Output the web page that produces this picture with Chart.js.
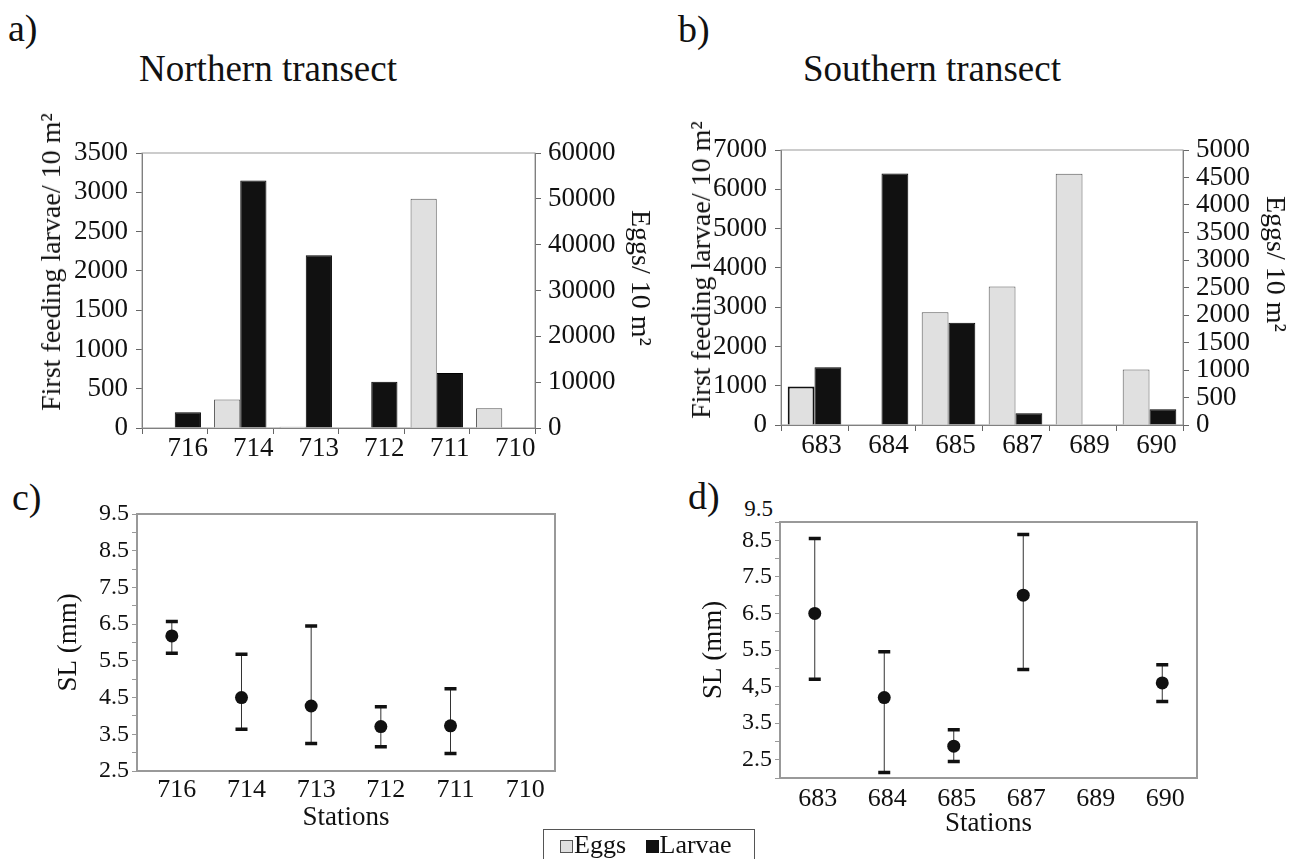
<!DOCTYPE html>
<html lang="en">
<head>
<meta charset="UTF-8">
<title>Northern and Southern transect</title>
<script src="https://cdn.jsdelivr.net/npm/chart.js"></script>
<style>
  body { margin: 0; width: 1291px; height: 859px; background: #fff; position: relative; overflow: hidden;
         font-family: "Liberation Serif", "Times New Roman", serif; color: #111; }
  .pane { position: absolute; }
  .lbl { position: absolute; line-height: 1; white-space: nowrap; }
  .panel-tag { font-size: 38px; }
  .title { font-size: 37px; transform: translateX(-50%); }
  /* rotated axis titles, left/top is the centre of the text */
  .vt { position: absolute; font-size: 28px; line-height: 1; white-space: nowrap; }
  .vt.up { transform: translate(-50%, -50%) rotate(-90deg); }
  .vt.down { transform: translate(-50%, -50%) rotate(90deg); }
  .legend { position: absolute; left: 543px; top: 829px; width: 212px; height: 40px; border: 1px solid #555;
            font-size: 26px; line-height: 30px; padding-left: 16px; box-sizing: border-box; }
  .sw { display: inline-block; width: 11px; height: 11px; border: 1px solid #555; margin-right: 1px; }
</style>
</head>
<body>
  <div class="lbl panel-tag" style="left:8px; top:9px;">a)</div>
  <div class="lbl title" style="left:268px; top:50px;">Northern transect</div>
  <div class="lbl panel-tag" style="left:678px; top:10px;">b)</div>
  <div class="lbl title" style="left:932px; top:50px;">Southern transect</div>
  <div class="lbl panel-tag" style="left:12px; top:478px;">c)</div>
  <div class="lbl panel-tag" style="left:688px; top:477px;">d)</div>
  <div class="lbl" style="left:773px; top:497px; font-size:23px; transform:translateX(-100%);">9.5</div>

  <div class="pane" style="left:0; top:120px;"><canvas id="chartA" width="665" height="345"></canvas></div>
  <div class="pane" style="left:665px; top:120px;"><canvas id="chartB" width="626" height="345"></canvas></div>
  <div class="pane" style="left:0; top:480px;"><canvas id="chartC" width="665" height="379"></canvas></div>
  <div class="pane" style="left:665px; top:480px;"><canvas id="chartD" width="626" height="379"></canvas></div>

  <div class="vt up" style="left:51px; top:262px;">First feeding larvae/ 10 m²</div>
  <div class="vt down" style="left:641px; top:278px;">Eggs/ 10 m²</div>
  <div class="vt up" style="left:701px; top:270px;">First feeding larvae/ 10 m²</div>
  <div class="vt down" style="left:1276px; top:264px;">Eggs/ 10 m²</div>

  <div class="legend">
    <span class="sw" style="background:#e0e0e0;"></span>Eggs&nbsp;&nbsp;&nbsp;<span class="sw" style="background:#111; border-color:#111;"></span>Larvae
  </div>

<script>
// stations
var northStations = ['716', '714', '713', '712', '711', '710'];
var southStations = ['683', '684', '685', '687', '689', '690'];

// densities per 10 m2 (eggs on right axis, first feeding larvae on left axis)
var northEggs   = [0, 6200, 300, 0, 50000, 4300];
var northLarvae = [200, 3150, 2200, 590, 700, 0];
var southEggs   = [700, 0, 2050, 2520, 4570, 1010];
var southLarvae = [1470, 6400, 2600, 300, 0, 400];

// standard length (mm): mean, lower and upper bar
var northSL     = [6.18, 4.5, 4.27, 3.71, 3.73, null];
var northSLlow  = [5.71, 3.64, 3.25, 3.16, 2.98, null];
var northSLhigh = [6.57, 5.68, 6.45, 4.25, 4.74, null];
var southSL     = [6.5, 4.2, 2.87, 7.0, null, 4.6];
var southSLlow  = [4.7, 2.15, 2.45, 4.97, null, 4.09];
var southSLhigh = [8.55, 5.45, 3.32, 8.66, null, 5.1];

// SL tick labels (one per x.5 value, from 2.5 up)
var slTicksNorth = ['2.5', '3.5', '4.5', '5.5', '6.5', '7.5', '8.5', '9.5'];
var slTicksSouth = ['2.5', '3.5', '4,5', '5.5', '6.5', '7.5', '8.5'];

Chart.defaults.font.family = '"Liberation Serif", "Times New Roman", serif';
Chart.defaults.color = '#111';

var EGG_COLOR = '#e0e0e0';
var LARVAE_COLOR = '#111';

// draws a frame round the plot area
var frame = {
    id: 'frame',
    beforeDatasetsDraw: function(chart, args, opts) {
        var a = chart.chartArea, ctx = chart.ctx;
        ctx.save();
        ctx.strokeStyle = opts.color || '#999';
        ctx.lineWidth = opts.width || 1;
        ctx.strokeRect(a.left, a.top, a.right - a.left, a.bottom - a.top);
        ctx.restore();
    }
};

// error bars: thin vertical line and thick caps
var errorBars = {
    id: 'errorBars',
    beforeDatasetsDraw: function(chart, args, opts) {
        var ctx = chart.ctx, xs = chart.scales.x, ys = chart.scales.y;
        ctx.save();
        for (var i = 0; i < opts.low.length; i++) {
            if (opts.low[i] == null) continue;
            var px = xs.getPixelForValue(i);
            var yl = ys.getPixelForValue(opts.low[i]);
            var yh = ys.getPixelForValue(opts.high[i]);
            ctx.strokeStyle = '#333';
            ctx.lineWidth = 1;
            ctx.beginPath();
            ctx.moveTo(px, yl); ctx.lineTo(px, yh);
            ctx.stroke();
            ctx.strokeStyle = '#111';
            ctx.lineWidth = 3.5;
            ctx.beginPath();
            ctx.moveTo(px - 6, yl); ctx.lineTo(px + 6, yl);
            ctx.moveTo(px - 6, yh); ctx.lineTo(px + 6, yh);
            ctx.stroke();
        }
        ctx.restore();
    }
};

function plain(v) { return String(v); }

function barChart(id, stations, eggs, larvae, cfg) {
    return new Chart(document.getElementById(id), {
        type: 'bar',
        data: {
            labels: stations,
            datasets: [
                { label: 'Eggs', data: eggs, yAxisID: 'y1', backgroundColor: EGG_COLOR,
                  borderColor: cfg.eggBorder, borderWidth: cfg.eggBorderWidth, borderSkipped: 'bottom' },
                { label: 'Larvae', data: larvae, yAxisID: 'y', backgroundColor: LARVAE_COLOR,
                  borderColor: '#000', borderWidth: 1 }
            ]
        },
        options: {
            responsive: false,
            animation: false,
            layout: { padding: { top: cfg.top, left: 0, right: 0, bottom: 0 } },
            datasets: { bar: { barPercentage: 1, categoryPercentage: 0.8 } },
            scales: {
                x: {
                    afterFit: function(s) { s.height = cfg.xHeight; },
                    grid: { offset: true, drawOnChartArea: false, drawTicks: true, tickLength: 6, color: '#666' },
                    border: { display: true, color: '#666' },
                    ticks: { font: { size: 27 }, padding: -1, labelOffset: cfg.labelOffset, maxRotation: 0 }
                },
                y: {
                    position: 'left',
                    min: 0, max: cfg.leftMax,
                    afterFit: function(s) { s.width = cfg.leftWidth; },
                    grid: { drawOnChartArea: false, drawTicks: true, tickLength: 6, color: '#666' },
                    border: { display: true, color: '#666' },
                    ticks: { stepSize: cfg.leftStep, font: { size: 27 }, padding: 8, callback: plain, autoSkip: false }
                },
                y1: {
                    position: 'right',
                    min: 0, max: cfg.rightMax,
                    afterFit: function(s) { s.width = cfg.rightWidth; },
                    grid: { drawOnChartArea: false, drawTicks: true, tickLength: 6, color: '#666' },
                    border: { display: true, color: '#666' },
                    ticks: { stepSize: cfg.rightStep, font: { size: 27 }, padding: 7, callback: plain, autoSkip: false }
                }
            },
            plugins: {
                legend: { display: false },
                tooltip: { enabled: false },
                frame: { color: '#999', width: 1 }
            }
        },
        plugins: [frame]
    });
}

function slChart(id, stations, mean, low, high, tickLabels, cfg) {
    return new Chart(document.getElementById(id), {
        type: 'line',
        data: {
            labels: stations,
            datasets: [{
                label: 'SL', data: mean, showLine: false,
                pointRadius: 6.5, pointBackgroundColor: '#111', pointBorderWidth: 0
            }]
        },
        options: {
            responsive: false,
            animation: false,
            layout: { padding: { top: cfg.top, right: cfg.right, left: 0, bottom: 0 } },
            scales: {
                x: {
                    offset: true,
                    afterFit: function(s) { s.height = cfg.xHeight; },
                    grid: { display: false },
                    border: { display: false },
                    ticks: { font: { size: 26 }, padding: cfg.xPad, labelOffset: cfg.labelOffset, maxRotation: 0 },
                    title: { display: true, text: 'Stations', font: { size: 27 },
                             padding: { top: 0, bottom: cfg.xTitlePad } }
                },
                y: {
                    min: cfg.min, max: cfg.max,
                    afterFit: function(s) { s.width = cfg.leftWidth; },
                    grid: { drawOnChartArea: false, drawTicks: true, tickLength: 5, color: '#999' },
                    border: { display: false },
                    ticks: {
                        stepSize: 0.5, font: { size: 24 }, padding: 3, autoSkip: false,
                        callback: function(v) {
                            var s = Number(v).toFixed(1);
                            if (s.charAt(s.length - 1) !== '5') return '';
                            var label = tickLabels[Math.round(Number(v) - 2.5)];
                            return label === undefined ? '' : label;
                        }
                    },
                    title: { display: true, text: 'SL (mm)', font: { size: 27 },
                             padding: { top: cfg.yTitlePad, bottom: 0 } }
                }
            },
            plugins: {
                legend: { display: false },
                tooltip: { enabled: false },
                frame: { color: '#999', width: 2 },
                errorBars: { low: low, high: high }
            }
        },
        plugins: [frame, errorBars]
    });
}

function drawAll() {
    barChart('chartA', northStations, northEggs, northLarvae, {
        top: 33, xHeight: 37, leftWidth: 142, rightWidth: 130, labelOffset: 13,
        leftMax: 3500, leftStep: 500, rightMax: 60000, rightStep: 10000,
        eggBorder: '#555', eggBorderWidth: 1
    });

    barChart('chartB', southStations, southEggs, southLarvae, {
        top: 30, xHeight: 40, leftWidth: 116, rightWidth: 108, labelOffset: 7,
        leftMax: 7000, leftStep: 1000, rightMax: 5000, rightStep: 500,
        // the first egg bar of the southern transect has a heavier outline
        eggBorder: function(c) { return c.dataIndex === 0 ? '#111' : '#555'; },
        eggBorderWidth: function(c) { return c.dataIndex === 0 ? 2 : 1; }
    });

    slChart('chartC', northStations, northSL, northSLlow, northSLhigh, slTicksNorth, {
        top: 34, right: 110, xHeight: 88, leftWidth: 137, labelOffset: 5, xPad: -4,
        min: 2.5, max: 9.5, xTitlePad: 25, yTitlePad: 53
    });

    slChart('chartD', southStations, southSL, southSLlow, southSLhigh, slTicksSouth, {
        top: 42, right: 94, xHeight: 81, leftWidth: 115, labelOffset: 3, xPad: -2,
        min: 2, max: 9, xTitlePad: 19, yTitlePad: 33
    });
}

if (document.fonts && document.fonts.load) {
    document.fonts.load('26px "Liberation Serif"').then(drawAll, drawAll);
} else {
    drawAll();
}
</script>
</body>
</html>
